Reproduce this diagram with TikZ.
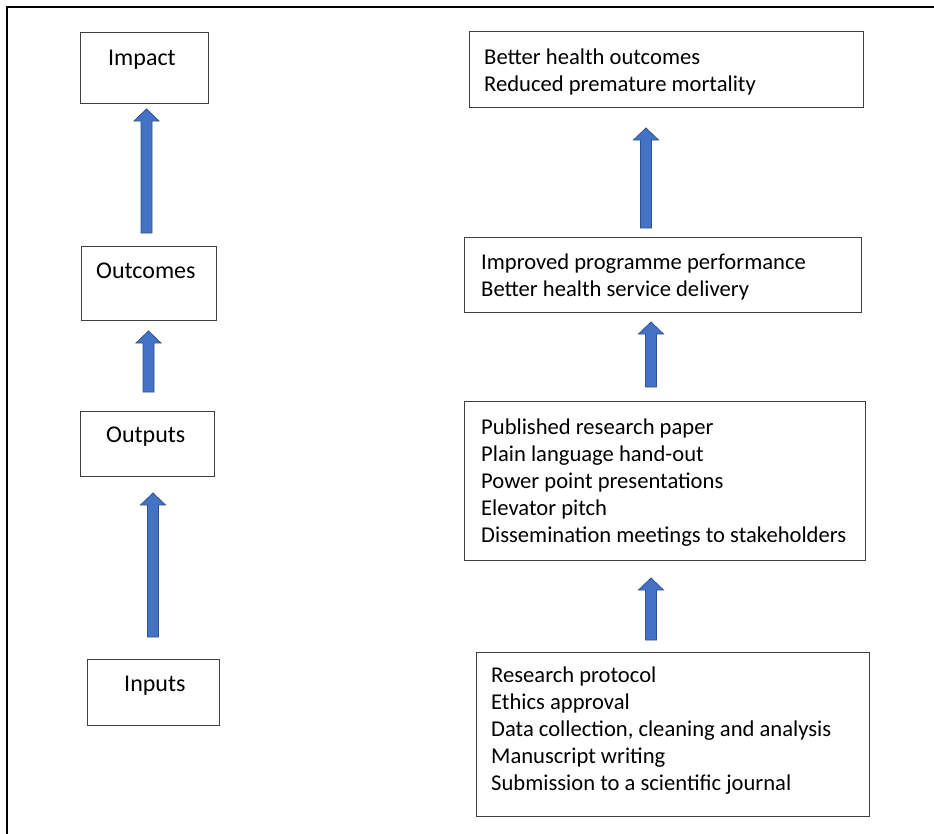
\documentclass[tikz,border=0pt]{standalone}
\usepackage{fontspec}
\setmainfont{Carlito}
\usetikzlibrary{fit}
\definecolor{arrowfill}{HTML}{4472C4}
\definecolor{arrowline}{HTML}{2F528F}
\definecolor{boxline}{HTML}{404040}
\tikzset{
  box/.style={draw=boxline, line width=0.9pt, inner sep=0pt, fill=white},
  stage/.style={font=\fontsize{24}{29}\selectfont, inner sep=0pt, anchor=base west},
  % multi-line nodes: the base anchor sits on the last line
  detail/.style={font=\fontsize{22.6}{27}\selectfont, inner sep=0pt, align=left, anchor=base west},
  blockarrow/.style={fill=arrowfill, draw=arrowline, line width=0.8pt, line join=miter},
}
% upward block arrow: centre x, bottom y, top y
\newcommand\upblock[3]{%
  \draw[blockarrow] (#1-5.5,#2) -- (#1+5.5,#2) -- (#1+5.5,#3+12) -- (#1+12.5,#3+12)
    -- (#1,#3) -- (#1-12.5,#3+12) -- (#1-5.5,#3+12) -- cycle;}
\begin{document}
\begin{tikzpicture}[x=1pt,y=-1pt]
\useasboundingbox (0,0) rectangle (934,833);
% frame
\coordinate (fbl) at (7,833);
\coordinate (ftl) at (7,7);
\coordinate (ftr) at (934,7);
\draw[line width=1.6pt, line cap=rect] (fbl) -- (ftl) -- (ftr);

% left column: stages
\node[box, fit={(80,32)(208,103)}] (impact) {};
\node[box, fit={(81,246)(216,320)}] (outcomes) {};
\node[box, fit={(80,411)(214,476)}] (outputs) {};
\node[box, fit={(87,659)(219,725)}] (inputs) {};
\node[stage] (impactT) at (108,65) {Impact};
\node[stage] (outcomesT) at (96,278) {Outcomes};
\node[stage] (outputsT) at (106,442) {Outputs};
\node[stage] (inputsT) at (124,691) {Inputs};

% right column: details
\node[box, fit={(469,31)(863,107)}] (r1) {};
\node[box, fit={(464,237)(861,312)}] (r2) {};
\node[box, fit={(464,401)(865,560)}] (r3) {};
\node[box, fit={(476,652)(869,816)}] (r4) {};
\node[detail] (r1T) at (484,91) {Better health outcomes\\Reduced premature mortality};
\node[detail] (r2T) at (481,296) {Improved programme performance\\Better health service delivery};
\node[detail] (r3T) at (481,542) {Published research paper\\Plain language hand-out\\Power point presentations\\Elevator pitch\\Dissemination meetings to stakeholders};
\node[detail] (r4T) at (491,790) {Research protocol\\Ethics approval\\Data collection, cleaning and analysis\\Manuscript writing\\Submission to a scientific journal};

% block arrows
\upblock{146.5}{233}{109}
\upblock{148.5}{392}{331}
\upblock{153}{637}{493}
\upblock{646}{228}{128}
\upblock{651}{387}{322}
\upblock{651}{640}{578}
\end{tikzpicture}
\end{document}
